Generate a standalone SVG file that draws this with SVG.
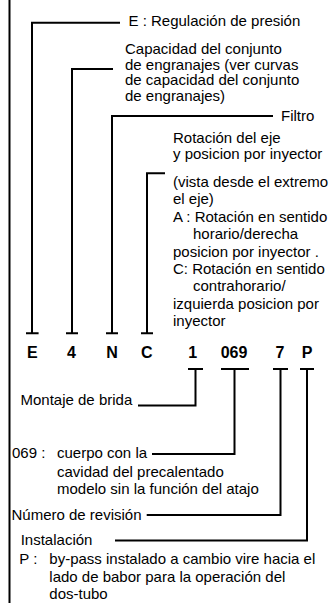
<svg xmlns="http://www.w3.org/2000/svg" width="334" height="603" viewBox="0 0 334 603">
<style>
text{font-family:"Liberation Sans",Arial,sans-serif;font-size:15px;fill:#000}
.code{font-weight:bold;font-size:16px;text-anchor:middle}
.ln{stroke:#000;stroke-width:2;fill:none}
</style>
<rect width="334" height="603" fill="#fff"/>
<line class="ln" x1="9.5" y1="0" x2="9.5" y2="603"/>
<g id="connectors">
<path class="ln" d="M120,22.7H32V333.3M26,333.3H38.6"/>
<path class="ln" d="M113,69H72V333.3M66,333.3H78"/>
<path class="ln" d="M273,116H112V333.3M106,333.3H118"/>
<path class="ln" d="M165,173.3H147V333.3M141,333.3H153"/>
<path class="ln" d="M188,369H203M195.5,369V405.5H138"/>
<path class="ln" d="M221,369H249M234.5,369V454H152"/>
<path class="ln" d="M273,369H288M280.5,369V515H146.7"/>
<path class="ln" d="M300,369H314M307,369V540.5H115"/>
</g>
<g id="code">
<text class="code" x="32.3" y="357.5">E</text>
<text class="code" x="71.5" y="357.5">4</text>
<text class="code" x="112" y="357.5">N</text>
<text class="code" x="146.7" y="357.5">C</text>
<text class="code" x="192.7" y="357.5">1</text>
<text class="code" x="234" y="357.5">069</text>
<text class="code" x="280" y="357.5">7</text>
<text class="code" x="307" y="357.5">P</text>
</g>
<g id="n-E"><text x="128.5" y="26">E : Regulación de presión</text></g>
<g id="n-4">
<text x="125" y="54">Capacidad del conjunto</text>
<text x="125" y="69.5">de engranajes (ver curvas</text>
<text x="125" y="85">de capacidad del conjunto</text>
<text x="125" y="100.7">de engranajes)</text>
</g>
<g id="n-N"><text x="281" y="120.5">Filtro</text></g>
<g id="n-C">
<text x="173" y="142.7">Rotación del eje</text>
<text x="173" y="158.5">y posicion por inyector</text>
<text x="173" y="187">(vista desde el extremo</text>
<text x="173" y="204.4">el eje)</text>
<text x="173" y="221.8">A : Rotación en sentido</text>
<text x="193" y="239.2">horario/derecha</text>
<text x="173" y="256.6">posicion por inyector .</text>
<text x="173" y="274">C: Rotación en sentido</text>
<text x="193" y="291.4">contrahorario/</text>
<text x="173" y="308.8">izquierda posicion por</text>
<text x="173" y="326.2">inyector</text>
</g>
<g id="n-1"><text x="20.5" y="405">Montaje de brida</text></g>
<g id="n-069">
<text x="12" y="458">069 :</text>
<text x="57" y="458">cuerpo con la</text>
<text x="57" y="476.5">cavidad del precalentado</text>
<text x="57" y="494">modelo sin la función del atajo</text>
</g>
<g id="n-7"><text x="11.5" y="519.5">Número de revisión</text></g>
<g id="n-P">
<text x="20.7" y="545">Instalación</text>
<text x="19.3" y="564">P :</text>
<text x="49.3" y="564">by-pass instalado a cambio vire hacia el</text>
<text x="49.3" y="581.5">lado de babor para la operación del</text>
<text x="49.3" y="598.5">dos-tubo</text>
</g>
</svg>
